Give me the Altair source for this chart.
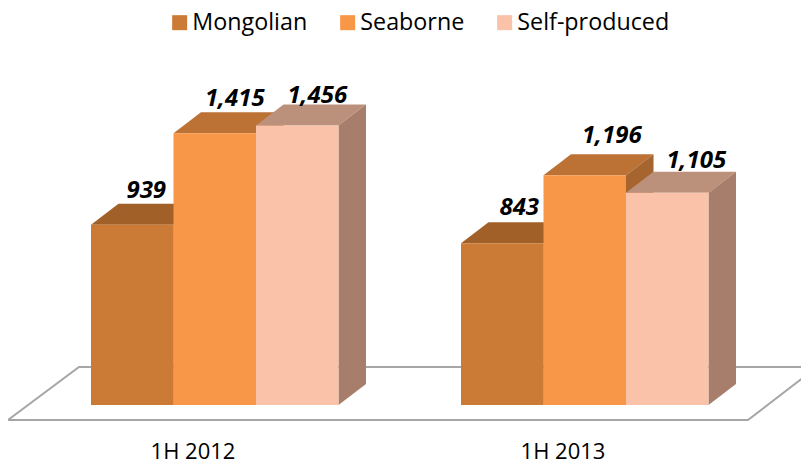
import altair as alt
import pandas as pd

periods = ["1H 2012", "1H 2013"]
series = ["Mongolian", "Seaborne", "Self-produced"]
values = {
    "Mongolian": [939, 843],
    "Seaborne": [1415, 1196],
    "Self-produced": [1456, 1105],
}
front_colors = ["#CB7B36", "#F99748", "#FAC2A9"]
top_colors = ["#A26029", "#BC7235", "#BC917C"]
side_colors = ["#95592A", "#A6652E", "#A67E6B"]

FONT = "Open Sans"
PX_PER_BAR = 82.5
PX_PER_UNIT = 0.192
GROUP_STEP = 370 / PX_PER_BAR
DX = 27.5 / PX_PER_BAR
DY = 21 / PX_PER_UNIT
PW, PH = 793, 458
ZERO_X, ZERO_Y = 83, 397

x_scale = alt.Scale(domain=[-ZERO_X / PX_PER_BAR, (PW - ZERO_X) / PX_PER_BAR], nice=False, zero=False)
y_scale = alt.Scale(domain=[-(PH - ZERO_Y) / PX_PER_UNIT, ZERO_Y / PX_PER_UNIT], nice=False, zero=False)
X = lambda f="x": alt.X(f"{f}:Q", scale=x_scale, axis=None)
Y = lambda f="y": alt.Y(f"{f}:Q", scale=y_scale, axis=None)

layers = []

# floor outline
fx0, fx1 = -83 / PX_PER_BAR, 657 / PX_PER_BAR
fy0, fy1 = -15 / PX_PER_UNIT, 38 / PX_PER_UNIT
floor = pd.DataFrame({
    "x": [fx1 + 69 / PX_PER_BAR, fx1, fx0, fx0 + 71 / PX_PER_BAR, fx1 + 69 / PX_PER_BAR],
    "y": [fy1, fy0, fy0, fy1, fy1],
    "o": [0, 1, 2, 3, 4],
})
layers.append(
    alt.Chart(floor).mark_line(color="#A6A6A6", strokeWidth=2, clip=True, strokeJoin="miter").encode(
        x=X(), y=Y(), order="o:O"
    )
)

# bars, back to front
for g, period in enumerate(periods):
    for s, name in enumerate(series):
        v = values[name][g]
        x0 = g * GROUP_STEP + s
        x1 = x0 + 1
        top = pd.DataFrame({
            "x": [x0, x0 + DX, x1, x1 + DX],
            "y": [v, v + DY, v + DY, v + DY],
            "y2": [v, v, v, v + DY],
        })
        side = pd.DataFrame({
            "x": [x1, x1 + DX],
            "y": [v, v + DY],
            "y2": [0, DY],
        })
        front = pd.DataFrame({"x": [x0], "x2": [x1], "y": [v], "y2": [0], "series": [name]})
        layers.append(alt.Chart(top).mark_area(color=top_colors[s]).encode(x=X(), y=Y(), y2="y2:Q"))
        layers.append(alt.Chart(side).mark_area(color=side_colors[s]).encode(x=X(), y=Y(), y2="y2:Q"))
        layers.append(
            alt.Chart(front).mark_rect().encode(
                x=X(), x2="x2:Q", y=Y(), y2="y2:Q",
                color=alt.Color(
                    "series:N",
                    scale=alt.Scale(domain=series, range=front_colors),
                    legend=alt.Legend(
                        orient="none", legendX=160, legendY=3, direction="horizontal", columns=3,
                        title=None, symbolType="square", symbolSize=225, symbolStrokeWidth=0,
                        labelFont=FONT, labelFontSize=23.3, labelColor="#000000", labelLimit=300,
                        labelOffset=1, columnPadding=28, padding=0, symbolOpacity=1,
                    ),
                ),
            )
        )

# value labels
label_offsets = {
    (0, 0): (14, -6), (0, 1): (20, -6), (0, 2): (20, -1),
    (1, 0): (17, -7), (1, 1): (27, -11), (1, 2): (29, -4),
}
for g in range(len(periods)):
    for s, name in enumerate(series):
        v = values[name][g]
        dx, dy = label_offsets[(g, s)]
        d = pd.DataFrame({"x": [g * GROUP_STEP + s + 0.5], "y": [v + DY], "t": [f"{v:,}"]})
        layers.append(
            alt.Chart(d).mark_text(
                font=FONT, fontSize=24, fontWeight="bold", fontStyle="italic", color="#000000",
                align="center", baseline="alphabetic", dx=dx, dy=dy,
            ).encode(x=X(), y=Y(), text="t:N")
        )

# category labels
cat = pd.DataFrame({"x": [102 / PX_PER_BAR + g * GROUP_STEP for g in range(2)], "y": [-54 / PX_PER_UNIT] * 2, "t": periods})
layers.append(
    alt.Chart(cat).mark_text(font=FONT, fontSize=22, color="#000000", align="center", baseline="alphabetic").encode(
        x=X(), y=Y(), text="t:N"
    )
)

chart = (
    alt.layer(*layers)
    .properties(width=PW, height=PH, padding=0, autosize=alt.AutoSizeParams(type="none"), background="white")
    .configure_view(stroke=None)
)
chart.save("out.html", embed_options={"renderer": "svg", "actions": False})
